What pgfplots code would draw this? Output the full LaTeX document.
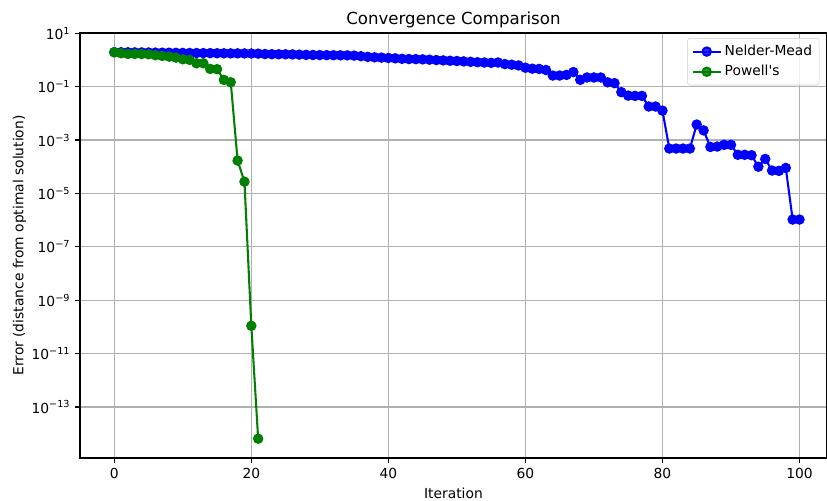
\documentclass[border=0pt]{standalone}
\usepackage{fontspec}
\setmainfont{DejaVu Sans}[Ligatures=TeXOff]
\usepackage{pgfplots}
\pgfplotsset{compat=1.18}
\definecolor{mplgreen}{RGB}{0,128,0}
\definecolor{mplblue}{RGB}{0,0,255}
\definecolor{gridgray}{RGB}{176,176,176}
\begin{document}
\begin{tikzpicture}
\useasboundingbox (-0.80in,-0.42in) rectangle (7.47in,4.58in);
\begin{axis}[
  at={(0,0)}, anchor=south west,
  scale only axis, width=7.469in, height=4.25in,
  ymode=log,
  xmin=-5, xmax=104,
  ymin=1.23e-15, ymax=1.02e1,
  xtick={0,20,40,60,80,100},
  ytick={1e1,1e-1,1e-3,1e-5,1e-7,1e-9,1e-11,1e-13},
  yticklabels={10\textsuperscript{1},10\textsuperscript{−1},10\textsuperscript{−3},10\textsuperscript{−5},10\textsuperscript{−7},10\textsuperscript{−9},10\textsuperscript{−11},10\textsuperscript{−13}},
  yminorticks=false, xminorticks=false,
  /pgf/number format/assume math mode=true,
  tick label style={font=\fontsize{10}{12}\selectfont},
  label style={font=\fontsize{10}{12}\selectfont},
  ylabel style={yshift=-3pt},
  title style={font=\fontsize{12}{14}\selectfont, yshift=-6pt},
  title={Convergence Comparison},
  xlabel={Iteration},
  ylabel={Error (distance from optimal solution)},
  grid=major,
  major grid style={gridgray, line width=0.8pt},
  axis line style={black, line width=0.8pt},
  tick align=outside,
  major tick length=3.5pt,
  tick style={black, line width=0.8pt},
  xtick pos=bottom, ytick pos=left,
  legend cell align=left,
  legend style={at={(0.99,0.988)}, anchor=north east, draw=gray!35, rounded corners=2pt,
    font=\fontsize{10}{12}\selectfont, fill=white, fill opacity=0.8, text opacity=1,
    row sep=1.5pt, inner xsep=3pt, inner ysep=3pt},
  legend image code/.code={\draw[#1] (0cm,0cm) -- (0.72cm,0cm); \draw[#1, mark repeat=1] plot coordinates {(0.36cm,0cm)};},
]
\addplot[mplblue, line width=1.5pt, mark=*, mark size=3pt, mark options={solid, fill=mplblue}] coordinates {
(0,1.95)(1,1.94)(2,1.93)(3,1.92)(4,1.91)(5,1.90)(6,1.88)(7,1.87)(8,1.86)(9,1.85)
(10,1.83)(11,1.82)(12,1.81)(13,1.80)(14,1.79)(15,1.78)(16,1.77)(17,1.76)(18,1.76)(19,1.75)
(20,1.74)(21,1.72)(22,1.66)(23,1.64)(24,1.63)(25,1.62)(26,1.61)(27,1.58)(28,1.55)(29,1.53)
(30,1.52)(31,1.51)(32,1.50)(33,1.49)(34,1.48)(35,1.45)(36,1.38)(37,1.30)(38,1.25)(39,1.22)
(40,1.18)(41,1.15)(42,1.10)(43,1.08)(44,1.07)(45,1.05)(46,1.02)(47,0.99)(48,0.96)(49,0.93)
(50,0.91)(51,0.88)(52,0.85)(53,0.82)(54,0.80)(55,0.78)(56,0.80)(57,0.70)(58,0.66)(59,0.62)
(60,0.51)(61,0.47)(62,0.46)(63,0.42)(64,0.26)(65,0.26)(66,0.275)(67,0.35)(68,0.18)(69,0.22)
(70,0.22)(71,0.22)(72,0.145)(73,0.135)(74,0.062)(75,0.046)(76,0.045)(77,0.045)(78,0.018)(79,0.018)
(80,0.0126)(81,4.8e-4)(82,4.8e-4)(83,4.8e-4)(84,4.8e-4)(85,3.8e-3)(86,2.3e-3)(87,5.5e-4)(88,5.7e-4)(89,6.6e-4)
(90,6.6e-4)(91,2.8e-4)(92,2.8e-4)(93,2.7e-4)(94,1.0e-4)(95,1.95e-4)(96,7.2e-5)(97,7.0e-5)(98,9.0e-5)(99,1.05e-6)
(100,1.05e-6)
};
\addlegendentry{Nelder-Mead}
\addplot[mplgreen, line width=1.5pt, mark=*, mark size=3pt, mark options={solid, fill=mplgreen}] coordinates {
(0,1.94)(1,1.78)(2,1.68)(3,1.68)(4,1.66)(5,1.63)(6,1.50)(7,1.41)(8,1.33)(9,1.22)
(10,1.06)(11,1.0)(12,0.75)(13,0.75)(14,0.46)(15,0.45)(16,0.178)(17,0.146)(18,1.7e-4)(19,2.75e-5)
(20,1.1e-10)(21,6.5e-15)
};
\addlegendentry{Powell's}
\end{axis}
\end{tikzpicture}
\end{document}
